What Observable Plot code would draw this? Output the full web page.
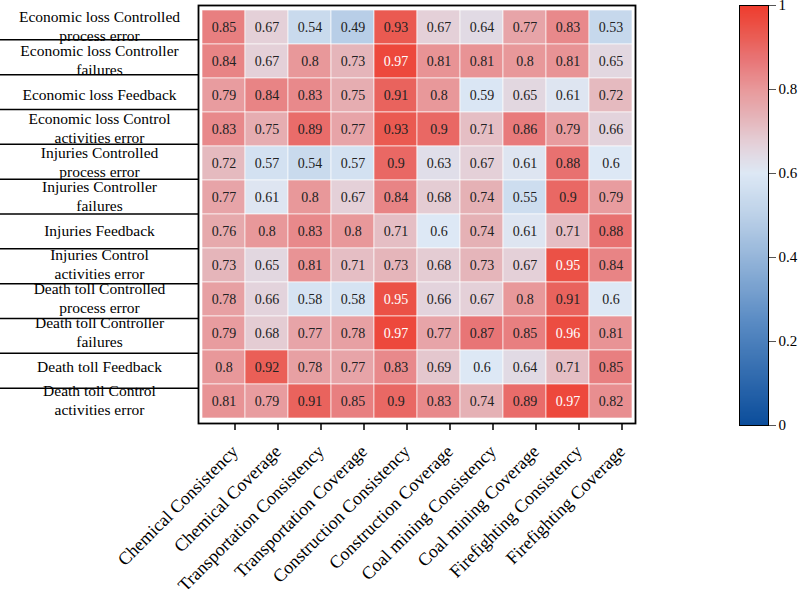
<!DOCTYPE html>
<html>
<head>
<meta charset="utf-8">
<script src="https://cdn.jsdelivr.net/npm/d3@7"></script>
<script src="https://cdn.jsdelivr.net/npm/@observablehq/plot@0.6"></script>
<style>
  html, body { margin: 0; padding: 0; background: #fff; }
  #wrap { position: relative; width: 800px; height: 589px; font-family: "Liberation Serif", "Times New Roman", serif; }
  #main { position: absolute; left: 0; top: 0; }
  #bar { position: absolute; left: 730px; top: 0; }
  svg { overflow: visible; }
</style>
</head>
<body>
<div id="wrap"><div id="main"></div><div id="bar"></div></div>
<script>
const columns = [
  "Chemical Consistency", "Chemical Coverage", "Transportation Consistency",
  "Transportation Coverage", "Construction Consistency", "Construction Coverage",
  "Coal mining Consistency", "Coal mining Coverage", "Firefighting Consistency",
  "Firefighting Coverage"
];
const rows = [
  "Economic loss Controlled process error",
  "Economic loss Controller failures",
  "Economic loss Feedback",
  "Economic loss Control activities error",
  "Injuries Controlled process error",
  "Injuries Controller failures",
  "Injuries Feedback",
  "Injuries Control activities error",
  "Death toll Controlled process error",
  "Death toll Controller failures",
  "Death toll Feedback",
  "Death toll Control activities error"
];
const values = [
  [0.85, 0.67, 0.54, 0.49, 0.93, 0.67, 0.64, 0.77, 0.83, 0.53],
  [0.84, 0.67, 0.8, 0.73, 0.97, 0.81, 0.81, 0.8, 0.81, 0.65],
  [0.79, 0.84, 0.83, 0.75, 0.91, 0.8, 0.59, 0.65, 0.61, 0.72],
  [0.83, 0.75, 0.89, 0.77, 0.93, 0.9, 0.71, 0.86, 0.79, 0.66],
  [0.72, 0.57, 0.54, 0.57, 0.9, 0.63, 0.67, 0.61, 0.88, 0.6],
  [0.77, 0.61, 0.8, 0.67, 0.84, 0.68, 0.74, 0.55, 0.9, 0.79],
  [0.76, 0.8, 0.83, 0.8, 0.71, 0.6, 0.74, 0.61, 0.71, 0.88],
  [0.73, 0.65, 0.81, 0.71, 0.73, 0.68, 0.73, 0.67, 0.95, 0.84],
  [0.78, 0.66, 0.58, 0.58, 0.95, 0.66, 0.67, 0.8, 0.91, 0.6],
  [0.79, 0.68, 0.77, 0.78, 0.97, 0.77, 0.87, 0.85, 0.96, 0.81],
  [0.8, 0.92, 0.78, 0.77, 0.83, 0.69, 0.6, 0.64, 0.71, 0.85],
  [0.81, 0.79, 0.91, 0.85, 0.9, 0.83, 0.74, 0.89, 0.97, 0.82]
];
const colorTicks = [0, 0.2, 0.4, 0.6, 0.8, 1];
const colorStops = [0, 0.25, 0.5, 0.6, 0.67, 0.73, 0.8, 0.87, 0.93, 1];
const colorRange = ["#0b4d9b", "#5b8cc4", "#bcd1e8", "#dde8f5", "#e4d0d8", "#e5b5ba", "#e8989a", "#e87576", "#ea5a51", "#ef3b2c"];

const table = rows.flatMap((r, i) => columns.map((c, j) => ({row: r, col: c, value: values[i][j]})));

const wrapLabel = s => s.replace(" process error", "\nprocess error")
  .replace(" failures", "\nfailures")
  .replace(" activities error", "\nactivities error");

const colorScale = {type: "linear", domain: colorStops, range: colorRange, interpolate: "rgb"};
const font = '"Liberation Serif", "Times New Roman", serif';

const main = Plot.plot({
  width: 640,
  height: 589,
  marginLeft: 198,
  marginRight: 5,
  marginTop: 5,
  marginBottom: 166,
  style: {fontFamily: font, fontSize: "16px", color: "#000", background: "#fff", overflow: "visible"},
  x: {domain: columns, padding: 0, label: null, axis: null},
  y: {domain: rows, padding: 0, label: null, axis: null},
  color: colorScale,
  marks: [
    Plot.cell(table, {x: "col", y: "row", fill: "value", stroke: "#fff", strokeWidth: 0.8, strokeOpacity: 0.8}),
    Plot.text(table, {x: "col", y: "row", text: d => String(d.value), fontSize: 14,
      fill: d => d.value >= 0.95 ? "#ffffff" : "#222222"}),
    Plot.frame({stroke: "#000", strokeWidth: 1.8}),
    Plot.axisX({anchor: "bottom", tickSize: 7, tickRotate: -45, tickPadding: 18, dx: 11, fontSize: 18, label: null, strokeWidth: 1.5}),
    Plot.axisY({anchor: "left", tickSize: 0, tickPadding: 99, textAnchor: "middle", lineHeight: 1.22, fontSize: 15.5,
      dy: -2, tickFormat: wrapLabel, label: null})
  ]
});
document.getElementById("main").appendChild(main);

// separator lines between row labels, at the y-band boundaries
const ys = main.scale("y");
const [r0, r1] = ys.range;
const step = (r1 - r0) / rows.length;
const svgM = d3.select(main);
rows.slice(1).forEach((_, i) => {
  const y = r0 + (i + 1) * step;
  svgM.append("line").attr("x1", 0).attr("x2", 198).attr("y1", y).attr("y2", y)
    .attr("stroke", "#000").attr("stroke-width", 1.5);
});

// colour bar
const steps = d3.range(0, 1, 0.0025);
const bar = Plot.plot({
  width: 70,
  height: 589,
  marginLeft: 9,
  marginRight: 32,
  marginTop: 5,
  marginBottom: 164,
  style: {fontFamily: font, fontSize: "15px", color: "#000", background: "#fff", overflow: "visible"},
  x: {axis: null},
  y: {domain: [0, 1], label: null, axis: null},
  color: colorScale,
  marks: [
    Plot.rect(steps, {y1: d => d, y2: d => Math.min(1, d + 0.0026), fill: d => d + 0.00125, shapeRendering: "crispEdges"}),
    Plot.frame({stroke: "#000", strokeWidth: 1}),
    Plot.axisY({anchor: "right", ticks: colorTicks, tickSize: 7, tickPadding: 3, stroke: "#555", fontSize: 15,
      tickFormat: d => String(d), label: null})
  ]
});
document.getElementById("bar").appendChild(bar);
</script>
</body>
</html>
